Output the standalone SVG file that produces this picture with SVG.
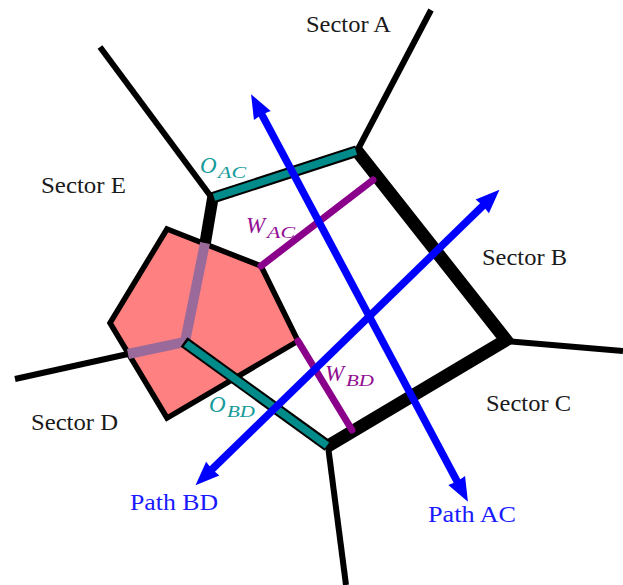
<svg xmlns="http://www.w3.org/2000/svg" width="623" height="585" viewBox="0 0 623 585">
<style>
.l{fill:none;stroke:#000;stroke-linecap:butt;stroke-linejoin:miter}
.t{stroke-width:6}
.k{stroke-width:13}
.g{fill:none;stroke:#008b8b;stroke-width:7.500}
.w{fill:none;stroke:#8b008b;stroke-width:7;stroke-linecap:round}
.b{fill:none;stroke:#0000ff;stroke-width:7.500;marker-start:url(#ah);marker-end:url(#ah)}
text{font-family:"Liberation Serif","Times New Roman",serif;font-size:23px}
.s{fill:#1a1a1a}
.p{fill:#1a1aff}
.m{font-style:italic}
.tl{fill:#159a9a}
.pl{fill:#930f93}
.sub{font-size:16px}
</style>
<defs>
<marker id="ah" markerUnits="userSpaceOnUse" markerWidth="30" markerHeight="24" refX="2" refY="12" orient="auto-start-reverse" overflow="visible">
<path d="M24 12 L0 2.500 L1 12 L0 21.500 Z" fill="#0000ff"/>
</marker>
</defs>
<rect width="623" height="585" fill="#fff"/>
<g id="sector-e-region">
<polygon points="167,229 261,266 298,341 167,418 110,323" fill="#ff8080" stroke="#000" stroke-width="5.500" stroke-linejoin="miter"/>
</g>
<g id="connectors">
<path class="l t" d="M100 47L212 198"/>
<path class="l t" d="M431 10L357 151"/>
<path class="l t" d="M623 351L505 341"/>
<path class="l t" d="M346 585L328 446"/>
<path class="l t" d="M15 379L128 354"/>
<path class="l" stroke-width="11.500" d="M213 197L205 244"/>
<path class="l k" d="M357 151L506 340L328 446"/>
<path d="M205 243L185 342L128 354" fill="none" stroke="#9a6a9a" stroke-width="10"/>
<path class="l" stroke-width="11.500" d="M212 198L357 151"/>
<path class="g" d="M214 197.300L356 151.300"/>
<path class="l" stroke-width="11.500" d="M184 342L328 446"/>
<path class="g" d="M186 343.500L327 445.500"/>
<path class="w" d="M261 266L373 180"/>
<path class="w" d="M298 341L352 430"/>
<path class="b" d="M457.600 482.300L261.400 113.700"/>
<path class="b" d="M483.700 205L211.300 470"/>
</g>
<g id="sector-a"><text class="s" x="306" y="32" textLength="85" lengthAdjust="spacingAndGlyphs">Sector A</text></g>
<g id="sector-b"><text class="s" x="482" y="265" textLength="85" lengthAdjust="spacingAndGlyphs">Sector B</text></g>
<g id="sector-c"><text class="s" x="486" y="411" textLength="85" lengthAdjust="spacingAndGlyphs">Sector C</text></g>
<g id="sector-d"><text class="s" x="31" y="430" textLength="87" lengthAdjust="spacingAndGlyphs">Sector D</text></g>
<g id="sector-e"><text class="s" x="41" y="193" textLength="85" lengthAdjust="spacingAndGlyphs">Sector E</text></g>
<g id="path-ac"><text class="p" x="428" y="522" textLength="88" lengthAdjust="spacingAndGlyphs">Path AC</text></g>
<g id="path-bd"><text class="p" x="130" y="510" textLength="88" lengthAdjust="spacingAndGlyphs">Path BD</text></g>
<g id="o-ac"><text class="m tl" x="200" y="173">O</text><text class="m tl sub" x="218" y="178" textLength="28" lengthAdjust="spacingAndGlyphs">AC</text></g>
<g id="w-ac"><text class="m pl" x="246" y="233">W</text><text class="m pl sub" x="267" y="238" textLength="28" lengthAdjust="spacingAndGlyphs">AC</text></g>
<g id="o-bd"><text class="m tl" x="209" y="412">O</text><text class="m tl sub" x="227" y="417" textLength="28" lengthAdjust="spacingAndGlyphs">BD</text></g>
<g id="w-bd"><text class="m pl" x="325" y="381">W</text><text class="m pl sub" x="346" y="386" textLength="28" lengthAdjust="spacingAndGlyphs">BD</text></g>
</svg>
